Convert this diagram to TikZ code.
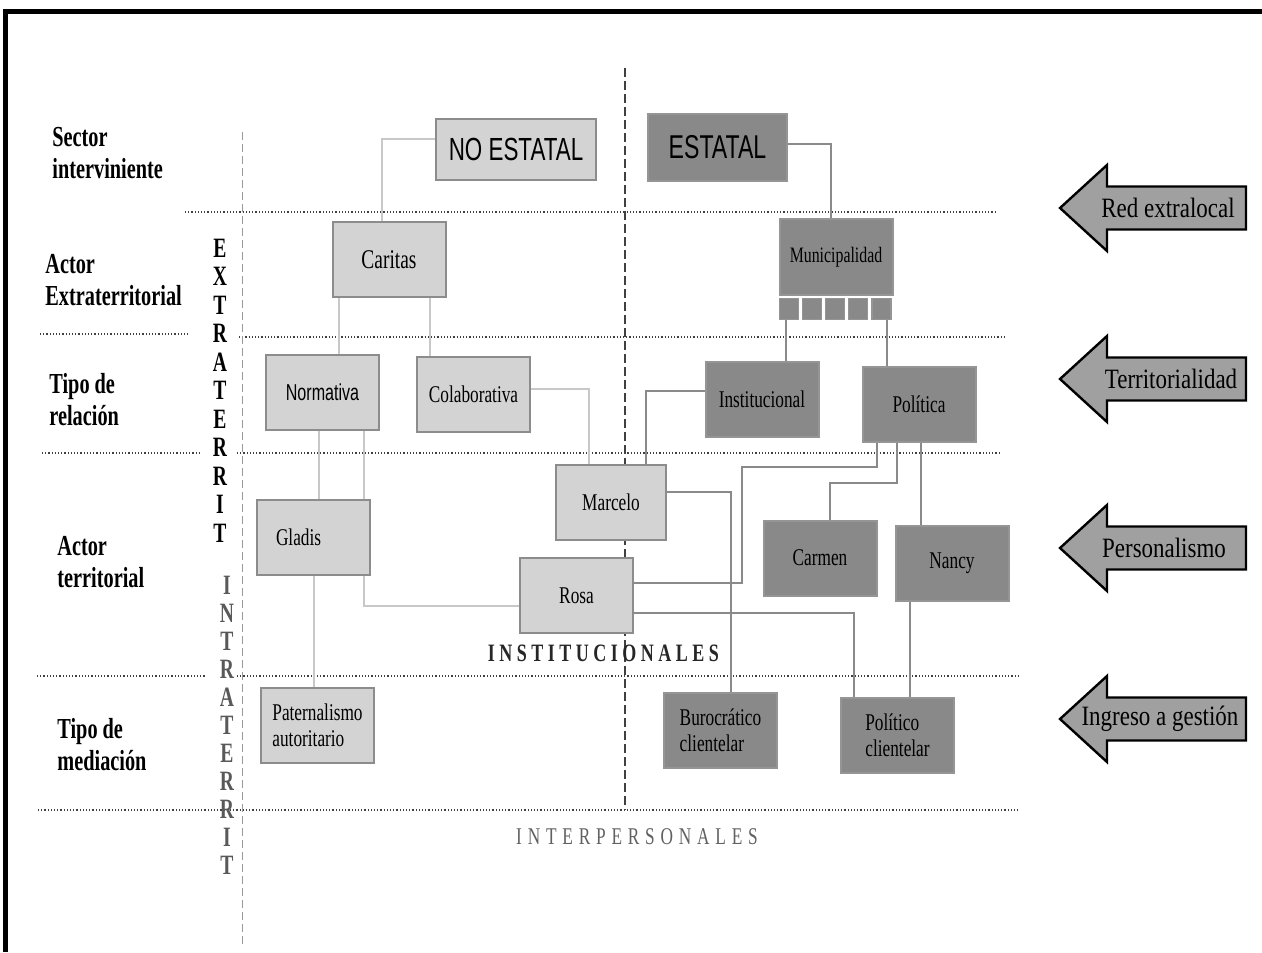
\documentclass[tikz,border=0pt]{standalone}
\usepackage{fontspec}
\setmainfont{Liberation Serif}
\newfontfamily\nodeserif[FakeStretch=0.72]{Liberation Serif}
\newfontfamily\labelserif[FakeStretch=0.7]{Liberation Serif}
\newfontfamily\arrowserif[FakeStretch=0.82]{Liberation Serif}
\newfontfamily\nodesans[FakeStretch=0.7]{Liberation Sans}
\newcommand\lgap{\hspace{2.9pt}}

\definecolor{lightfill}{HTML}{D3D3D3}
\definecolor{darkfill}{HTML}{898989}
\definecolor{lightedge}{HTML}{8C8C8C}
\definecolor{darkedge}{HTML}{959595}
\definecolor{lightwire}{HTML}{C8C8C8}
\definecolor{darkwire}{HTML}{8A8A8A}
\definecolor{arrowfill}{HTML}{A0A0A0}

\tikzset{
  cellbox/.style={draw, line width=1pt, minimum width=56.5pt, minimum height=37.5pt,
    inner sep=0pt, font=\nodeserif\fontsize{12}{13}\selectfont},
  lightbox/.style={cellbox, fill=lightfill, draw=lightedge},
  darkbox/.style={cellbox, fill=darkfill, draw=darkedge},
  lconn/.style={draw=lightwire, line width=1pt},
  dconn/.style={draw=darkwire, line width=1pt},
  rowlabel/.style={anchor=west, align=left, inner sep=0pt,
    font=\labelserif\bfseries\fontsize{14.5}{16}\selectfont},
  vletter/.style={inner sep=0pt, font=\labelserif\bfseries\fontsize{14}{16}\selectfont},
  sepline/.style={draw=black!75, line width=0.6pt, densely dotted},
  blockarrow/.style={draw=black, line width=1.2pt, fill=arrowfill},
  arrowtext/.style={inner sep=0pt, font=\arrowserif\fontsize{14}{16}\selectfont}
}

\begin{document}
\begin{tikzpicture}[x=0.5pt, y=-0.5pt]
  \useasboundingbox (0,0) rectangle (1262,952);
  \fill[white] (0,0) rectangle (1262,952);

  % frame
  \draw[line width=2.5pt] (5.5,952) -- (5.5,11.5) -- (1262,11.5);

  % separators
  \draw[sepline] (185,212) -- (996,212);
  \draw[sepline] (40,334) -- (188,334);
  \draw[sepline] (239,337) -- (1004,337);
  \draw[sepline] (42,453) -- (200,453);
  \draw[sepline] (237,453) -- (999,453);
  \draw[sepline] (37,676) -- (205,676);
  \draw[sepline] (237,676) -- (1018,676);
  \draw[sepline] (38,810) -- (1018,810);
  \draw[draw=black!40, line width=0.5pt, dash pattern=on 4pt off 2pt] (242,132) -- (242,945);
  \draw[draw=black!75, line width=0.8pt, dash pattern=on 4.5pt off 2pt] (625,68) -- (625,810);

  % row labels
  \node[rowlabel] (lsector) at (52,153) {Sector\\interviniente};
  \node[rowlabel] (lextra) at (45,280) {Actor\\Extraterritorial};
  \node[rowlabel] (lrelacion) at (49,400) {Tipo de\\relación};
  \node[rowlabel] (lterr) at (57,562) {Actor\\territorial};
  \node[rowlabel] (lmediacion) at (57,745) {Tipo de\\mediación};

  % vertical words
  \foreach \ch [count=\i from 0] in {E,X,T,R,A,T,E,R,R,I,T}
    \node[vletter] (ext\i) at (220,{248+28.5*\i}) {\ch};
  \foreach \ch [count=\i from 0] in {I,N,T,R,A,T,E,R,R,I,T}
    \node[vletter, text=black!65] (int\i) at (227,{585+28*\i}) {\ch};

  % boxes
  \node[lightbox, minimum width=80pt, minimum height=30.5pt,
    font=\nodesans\fontsize{16}{18}\selectfont] (noest) at (516,149.5) {NO ESTATAL};
  \node[darkbox, minimum width=69.5pt, minimum height=33.5pt,
    font=\nodesans\fontsize{16.5}{18}\selectfont] (est) at (717.5,147.5) {ESTATAL};
  \node[lightbox, font=\nodeserif\fontsize{13.5}{15}\selectfont] (caritas) at (389,259.5) {Caritas};
  \node[lightbox, font=\nodesans\fontsize{11.5}{13}\selectfont] (norm) at (322.5,392.5) {Normativa};
  \node[lightbox] (colab) at (473.5,394.5) {Colaborativa};
  \node[lightbox, minimum width=55pt] (marcelo) at (611,502) {Marcelo};
  \node[lightbox] (rosa) at (576.5,595.5) {Rosa};
  \node[lightbox, align=left, text width=37pt] (gladis) at (313,537) {Gladis};
  \node[lightbox, align=left] (patern) at (317.5,725.5) {Paternalismo\\autoritario};
  \node[darkbox, minimum height=38pt, font=\nodeserif\fontsize{11}{13}\selectfont] (munic) at (836,257) {Municipalidad};
  \foreach \i in {1,...,5}
    \node[darkbox, line width=0.6pt, minimum width=9.5pt, minimum height=10.5pt] (sq\i) at ({789+23.1*(\i-1)},309) {};
  \node[darkbox] (instit) at (762,399.5) {Institucional};
  \node[darkbox] (polit) at (919,404) {Política};
  \node[darkbox] (carmen) at (820,558) {Carmen};
  \node[darkbox] (nancy) at (952,563) {Nancy};
  \node[darkbox, align=left] (buro) at (720.5,730.5) {Burocrático\\clientelar};
  \node[darkbox, align=left] (polcli) at (897.5,735) {Político\\clientelar};

  % connectors
  \draw[lconn] ([yshift=5.25pt]noest.west) -| ([xshift=-3.5pt]caritas.north);
  \draw[dconn] ([yshift=1.75pt]est.east) -| ([xshift=-2.5pt]munic.north);
  \draw[lconn] ([xshift=8.25pt]norm.north) -- ([xshift=8.25pt]norm.north |- caritas.south);
  \draw[lconn] ([xshift=-21.75pt]colab.north) -- ([xshift=-21.75pt]colab.north |- caritas.south);
  \draw[dconn] ([xshift=-1.5pt]sq1.south) -- ([xshift=-1.5pt]sq1.south |- instit.north);
  \draw[dconn] ([xshift=2.75pt]sq5.south) -- ([xshift=2.75pt]sq5.south |- polit.north);
  \draw[lconn] ([yshift=2.75pt]colab.east) -| ([xshift=-11pt]marcelo.north);
  \draw[dconn] ([yshift=4.25pt]instit.west) -| ([xshift=17.5pt]marcelo.north);
  \draw[lconn] ([xshift=3pt]gladis.north) -- ([xshift=3pt]gladis.north |- norm.south);
  \draw[lconn] ([xshift=25.5pt]gladis.north) -- ([xshift=25.5pt]gladis.north |- norm.south);
  \draw[lconn] ([xshift=-1.75pt]patern.north) -- ([xshift=-1.75pt]patern.north |- gladis.south);
  \draw[lconn] ([xshift=25.5pt]gladis.south) |- ([yshift=-5.25pt]rosa.west);
  \draw[dconn] ([yshift=5pt]marcelo.east) -| ([xshift=5.25pt]buro.north);
  \draw[dconn] ([yshift=6.25pt]rosa.east) -- ++(54pt,0)
    |- ([xshift=-21pt,yshift=-12pt]polit.south) -- ([xshift=-21pt]polit.south);
  \draw[dconn] ([xshift=-11pt]polit.south) -- ++(0,-20pt) -| ([xshift=5pt]carmen.north);
  \draw[dconn] ([xshift=1pt]polit.south) -- ([xshift=1pt]polit.south |- nancy.north);
  \draw[dconn] ([yshift=-8.75pt]rosa.east) -| ([xshift=-21.75pt]polcli.north);
  \draw[dconn] ([xshift=-21pt]nancy.south) -- ([xshift=-21pt]nancy.south |- polcli.north);

  % zone labels
  \node[inner sep=0pt, text=black!85, font=\nodeserif\bfseries\fontsize{12.5}{14}\selectfont]
    (instlabel) at (603.5,653) {I N S T I T U C I O N A L E S};
  \node[inner sep=0pt, text=black!62, font=\nodeserif\fontsize{12}{14}\selectfont]
    (interlabel) at (637,837)
    {I\lgap N\lgap T\lgap E\lgap R\lgap P\lgap E\lgap R\lgap S\lgap O\lgap N\lgap A\lgap L\lgap E\lgap S};

  % side arrows
  \foreach \yc/\xt/\txt [count=\k] in {208/1168/Red extralocal, 379/1171/Territorialidad,
      548/1164/Personalismo, 719/1160/Ingreso a gestión} {
    \draw[blockarrow] (1060,\yc) -- (1107,\yc-43) -- (1107,\yc-21.5) -- (1246,\yc-21.5)
      -- (1246,\yc+21.5) -- (1107,\yc+21.5) -- (1107,\yc+43) -- cycle;
    \node[arrowtext] (arrow\k) at (\xt,\yc) {\txt};
  }
\end{tikzpicture}
\end{document}
